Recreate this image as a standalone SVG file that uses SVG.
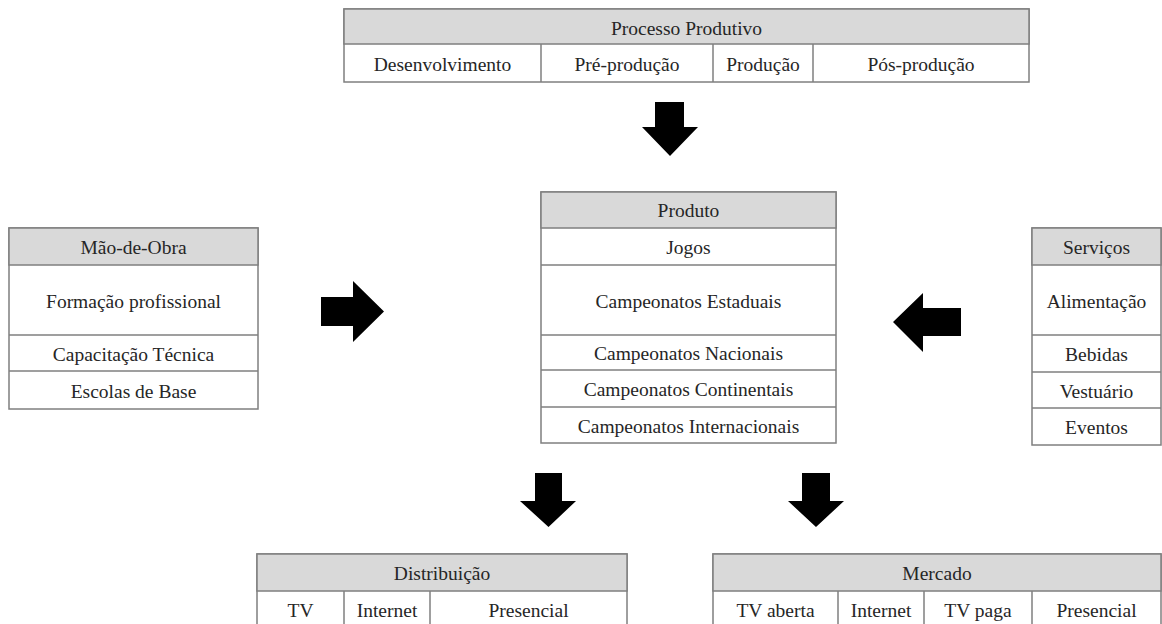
<svg xmlns="http://www.w3.org/2000/svg" width="1162" height="624" viewBox="0 0 1162 624">
<style>
.cell{fill:#ffffff;stroke:#7f7f7f;stroke-width:1.5}
.hdr{fill:#d9d9d9;stroke:#7f7f7f;stroke-width:1.5}
.ln{stroke:#7f7f7f;stroke-width:1.5}
.t{font-family:'Liberation Serif','Times New Roman',serif;font-size:19.5px;fill:#262626;text-anchor:middle}
.arr{fill:#000000}
</style>
<rect x="0" y="0" width="1162" height="624" fill="#ffffff"/>
<g id="processo">
<rect class="cell" x="344" y="9" width="685" height="73"/>
<rect class="hdr" x="344" y="9" width="685" height="35"/>
<line class="ln" x1="541" y1="44" x2="541" y2="82"/>
<line class="ln" x1="713" y1="44" x2="713" y2="82"/>
<line class="ln" x1="813" y1="44" x2="813" y2="82"/>
<text class="t" x="686.5" y="34.5">Processo Produtivo</text>
<text class="t" x="442.5" y="71">Desenvolvimento</text>
<text class="t" x="627" y="71">Pré-produção</text>
<text class="t" x="763" y="71">Produção</text>
<text class="t" x="921" y="71">Pós-produção</text>
</g>
<g id="maodeobra">
<rect class="cell" x="9" y="228" width="249" height="181"/>
<rect class="hdr" x="9" y="228" width="249" height="37"/>
<line class="ln" x1="9" y1="335" x2="258" y2="335"/>
<line class="ln" x1="9" y1="371" x2="258" y2="371"/>
<text class="t" x="133.5" y="254">Mão-de-Obra</text>
<text class="t" x="133.5" y="307.5">Formação profissional</text>
<text class="t" x="133.5" y="360.5">Capacitação Técnica</text>
<text class="t" x="133.5" y="397.5">Escolas de Base</text>
</g>
<g id="produto">
<rect class="cell" x="541" y="192" width="295" height="251"/>
<rect class="hdr" x="541" y="192" width="295" height="36"/>
<line class="ln" x1="541" y1="265" x2="836" y2="265"/>
<line class="ln" x1="541" y1="335" x2="836" y2="335"/>
<line class="ln" x1="541" y1="370" x2="836" y2="370"/>
<line class="ln" x1="541" y1="407" x2="836" y2="407"/>
<text class="t" x="688.5" y="217">Produto</text>
<text class="t" x="688.5" y="253.5">Jogos</text>
<text class="t" x="688.5" y="307.5">Campeonatos Estaduais</text>
<text class="t" x="688.5" y="360">Campeonatos Nacionais</text>
<text class="t" x="688.5" y="396">Campeonatos Continentais</text>
<text class="t" x="688.5" y="432.5">Campeonatos Internacionais</text>
</g>
<g id="servicos">
<rect class="cell" x="1032" y="228" width="129" height="217"/>
<rect class="hdr" x="1032" y="228" width="129" height="37"/>
<line class="ln" x1="1032" y1="335" x2="1161" y2="335"/>
<line class="ln" x1="1032" y1="372" x2="1161" y2="372"/>
<line class="ln" x1="1032" y1="408" x2="1161" y2="408"/>
<text class="t" x="1096.5" y="254">Serviços</text>
<text class="t" x="1096.5" y="307.5">Alimentação</text>
<text class="t" x="1096.5" y="361">Bebidas</text>
<text class="t" x="1096.5" y="397.5">Vestuário</text>
<text class="t" x="1096.5" y="434">Eventos</text>
</g>
<g id="distribuicao">
<rect class="cell" x="257" y="554" width="370" height="86"/>
<rect class="hdr" x="257" y="554" width="370" height="37"/>
<line class="ln" x1="344" y1="591" x2="344" y2="640"/>
<line class="ln" x1="430" y1="591" x2="430" y2="640"/>
<text class="t" x="442" y="580">Distribuição</text>
<text class="t" x="300.5" y="617">TV</text>
<text class="t" x="387" y="617">Internet</text>
<text class="t" x="528.5" y="617">Presencial</text>
</g>
<g id="mercado">
<rect class="cell" x="713" y="554" width="448" height="86"/>
<rect class="hdr" x="713" y="554" width="448" height="37"/>
<line class="ln" x1="838" y1="591" x2="838" y2="640"/>
<line class="ln" x1="924" y1="591" x2="924" y2="640"/>
<line class="ln" x1="1032" y1="591" x2="1032" y2="640"/>
<text class="t" x="937" y="580">Mercado</text>
<text class="t" x="775.5" y="617">TV aberta</text>
<text class="t" x="881" y="617">Internet</text>
<text class="t" x="978" y="617">TV paga</text>
<text class="t" x="1096.5" y="617">Presencial</text>
</g>
<g id="connectors">
<polygon class="arr" points="655,102 684,102 684,127 698,127 670,156 642,127 655,127"/>
<polygon class="arr" points="321,297 353,297 353,281 384,311.5 353,342 353,326 321,326"/>
<polygon class="arr" points="961,308 923,308 923,293 893,322 923,352 923,336 961,336"/>
<polygon class="arr" points="535,473 562,473 562,501 576,501 548.5,527 520,501 535,501"/>
<polygon class="arr" points="802,473 830,473 830,501 844,501 816,527 788,501 802,501"/>
</g>
</svg>
